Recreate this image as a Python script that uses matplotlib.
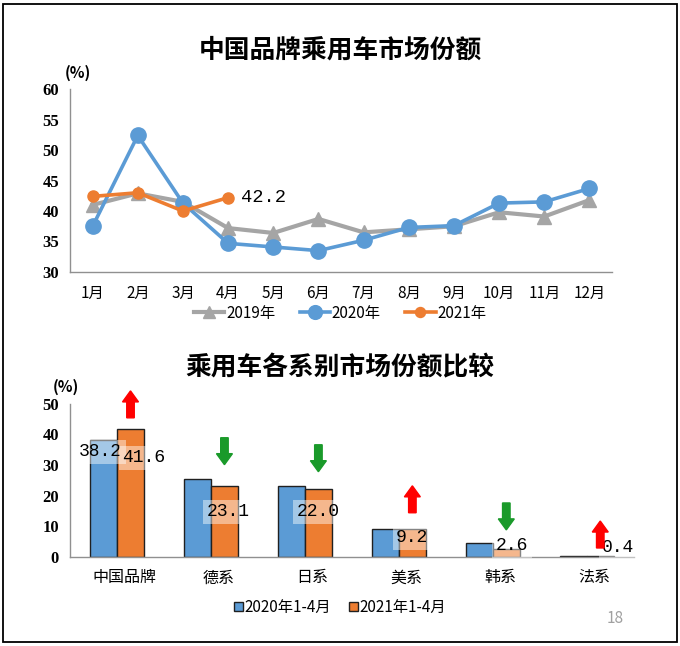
import matplotlib
matplotlib.use("Agg")
import matplotlib.pyplot as plt
from matplotlib.patches import Rectangle, Patch
import numpy as np

plt.rcParams['font.family'] = ['Noto Sans CJK SC', 'DejaVu Sans']

# ---------------- data ----------------
months = ['1月', '2月', '3月', '4月', '5月', '6月', '7月', '8月', '9月', '10月', '11月', '12月']
share_2019 = [41.0, 42.9, 41.5, 37.2, 36.4, 38.7, 36.5, 37.0, 37.5, 39.8, 39.1, 41.8]
share_2020 = [37.5, 52.4, 41.3, 34.7, 34.1, 33.5, 35.2, 37.3, 37.6, 41.3, 41.5, 43.7]
share_2021 = [42.4, 43.0, 40.0, 42.2]
series_names = ['2019年', '2020年', '2021年']

categories = ['中国品牌', '德系', '日系', '美系', '韩系', '法系']
bars_2020 = [38.2, 25.4, 23.2, 9.0, 4.6, 0.3]
bars_2021 = [41.6, 23.1, 22.0, 9.2, 2.6, 0.4]
bar_names = ['2020年1-4月', '2021年1-4月']

title_top = '中国品牌乘用车市场份额'
title_bottom = '乘用车各系别市场份额比较'

# ---------------- style ----------------
GRAY = '#a5a5a5'
BLUE = '#5b9bd5'
ORANGE = '#ed7d31'
NUMFONT = ['Liberation Serif', 'DejaVu Serif']
MONO = ['Liberation Mono', 'DejaVu Sans Mono']

fig = plt.figure(figsize=(6.8, 6.46), dpi=100)
fig.add_artist(Rectangle((0.004, 0.006), 0.991, 0.988, transform=fig.transFigure,
                         fill=False, edgecolor='black', lw=1.3))

# ---------------- top line chart ----------------
ax1 = fig.add_axes([0.103, 0.579, 0.797, 0.283])
x = np.arange(1, 13)
ax1.plot(x, share_2019, color=GRAY, lw=3.0, marker='^', ms=10, zorder=2, label=series_names[0])
ax1.plot(x, share_2020, color=BLUE, lw=2.6, marker='o', ms=11, zorder=3, label=series_names[1])
ax1.plot(x[:len(share_2021)], share_2021, color=ORANGE, lw=2.6, marker='o', ms=8, zorder=4,
         label=series_names[2])
ax1.annotate(f'{share_2021[-1]:.1f}', xy=(x[len(share_2021) - 1], share_2021[-1]),
             xytext=(9, 0), textcoords='offset points', ha='left', va='center',
             fontsize=13.5, family=MONO, color='black')
ax1.set_xlim(0.5, 12.5)
ax1.set_ylim(30, 60)
ax1.set_yticks(range(30, 61, 5))
ax1.set_xticks(x)
ax1.set_xticklabels(months, fontsize=11, fontweight='medium')
for lab in ax1.get_yticklabels():
    lab.set_fontfamily(NUMFONT)
    lab.set_fontsize(12)
    lab.set_fontweight('bold')
ax1.tick_params(length=0, pad=8)
ax1.tick_params(axis='x', pad=9)
for s in ['top', 'right']:
    ax1.spines[s].set_visible(False)
for s in ['left', 'bottom']:
    ax1.spines[s].set_color('#909090')
    ax1.spines[s].set_linewidth(1.0)
ax1.text(-0.01, 1.045, '(%)', transform=ax1.transAxes, fontsize=11, fontweight='bold',
         ha='left', va='bottom')
fig.text(0.5, 0.922, title_top, ha='center', va='center', fontsize=18.5, fontweight='bold')
leg1 = ax1.legend(loc='center', bbox_to_anchor=(0.5, 0.515), bbox_transform=fig.transFigure,
                  ncol=3, frameon=False, fontsize=11, handlelength=2.0, handletextpad=0.1,
                  columnspacing=1.6, markerscale=0.9)
for t in leg1.get_texts():
    t.set_fontweight('medium')

# ---------------- bottom bar chart ----------------
ax2 = fig.add_axes([0.103, 0.138, 0.829, 0.237])
xc = np.arange(len(categories))
bw = 0.287
ax2.bar(xc - bw / 2, bars_2020, width=bw, color=BLUE, edgecolor='#202020', lw=1.0,
        label=bar_names[0], zorder=2)
ax2.bar(xc + bw / 2, bars_2021, width=bw, color=ORANGE, edgecolor='#202020', lw=1.0,
        label=bar_names[1], zorder=2)
ax2.set_xlim(-0.5, len(categories) - 0.5)
ax2.set_ylim(0, 50)
ax2.set_yticks(range(0, 51, 10))
ax2.set_xticks(xc + 0.08)
ax2.set_xticklabels(categories, fontsize=11.5, fontweight='medium')
for lab in ax2.get_yticklabels():
    lab.set_fontfamily(NUMFONT)
    lab.set_fontsize(12)
    lab.set_fontweight('bold')
ax2.tick_params(length=0, pad=8)
ax2.tick_params(axis='x', pad=9)
for s in ['top', 'right']:
    ax2.spines[s].set_visible(False)
for s in ['left', 'bottom']:
    ax2.spines[s].set_color('#909090')
    ax2.spines[s].set_linewidth(1.0)
ax2.text(-0.03, 1.06, '(%)', transform=ax2.transAxes, fontsize=11, fontweight='bold',
         ha='left', va='bottom')
fig.text(0.5, 0.430, title_bottom, ha='center', va='center', fontsize=18.5, fontweight='bold')

# value labels (first one on the 2020 bar, rest on the 2021 bars)
label_pos = [(-bw / 2 - 0.03, 34.3), (bw / 2 + 0.14, 32.4), (bw / 2 + 0.04, 14.7),
             (bw / 2, 14.7), (bw / 2, 6.2), (bw / 2 + 0.06, 3.6), (bw / 2 + 0.19, 3.0)]
label_vals = [(0, bars_2020[0])] + [(i, v) for i, v in enumerate(bars_2021)]
for (ci, v), (dx, ly) in zip(label_vals, label_pos):
    ax2.text(ci + dx, ly, f'{v:.1f}', ha='center', va='center', fontsize=13, family=MONO,
             zorder=5, bbox=dict(facecolor='white', alpha=0.45, edgecolor='none', pad=2.5))

# change arrows
arrow_base = [45.4, 38.9, 36.6, 14.4, 17.6, 2.9]
arrow_len = 8.8
for i, (a, b) in enumerate(zip(bars_2020, bars_2021)):
    up = b > a
    y0 = arrow_base[i]
    dy = arrow_len if up else -arrow_len
    ax2.arrow(i + bw / 2, y0, 0, dy, width=0.08, head_width=0.17, head_length=3.6,
              length_includes_head=True, color='#ff0000' if up else '#1a9a2a',
              clip_on=False, zorder=6)

handles = [Patch(facecolor=BLUE, edgecolor='#202020', lw=1.0),
           Patch(facecolor=ORANGE, edgecolor='#202020', lw=1.0)]
leg2 = ax2.legend(handles, bar_names, loc='center', bbox_to_anchor=(0.5, 0.060),
                  bbox_transform=fig.transFigure, ncol=2, frameon=False, fontsize=11,
                  handlelength=0.6, handleheight=0.6, handletextpad=0.1, columnspacing=1.2)
for t in leg2.get_texts():
    t.set_fontweight('medium')

fig.text(0.905, 0.043, '18', ha='center', va='center', fontsize=11, color='#a0a0a0')

fig.savefig('out.png', dpi=100)
